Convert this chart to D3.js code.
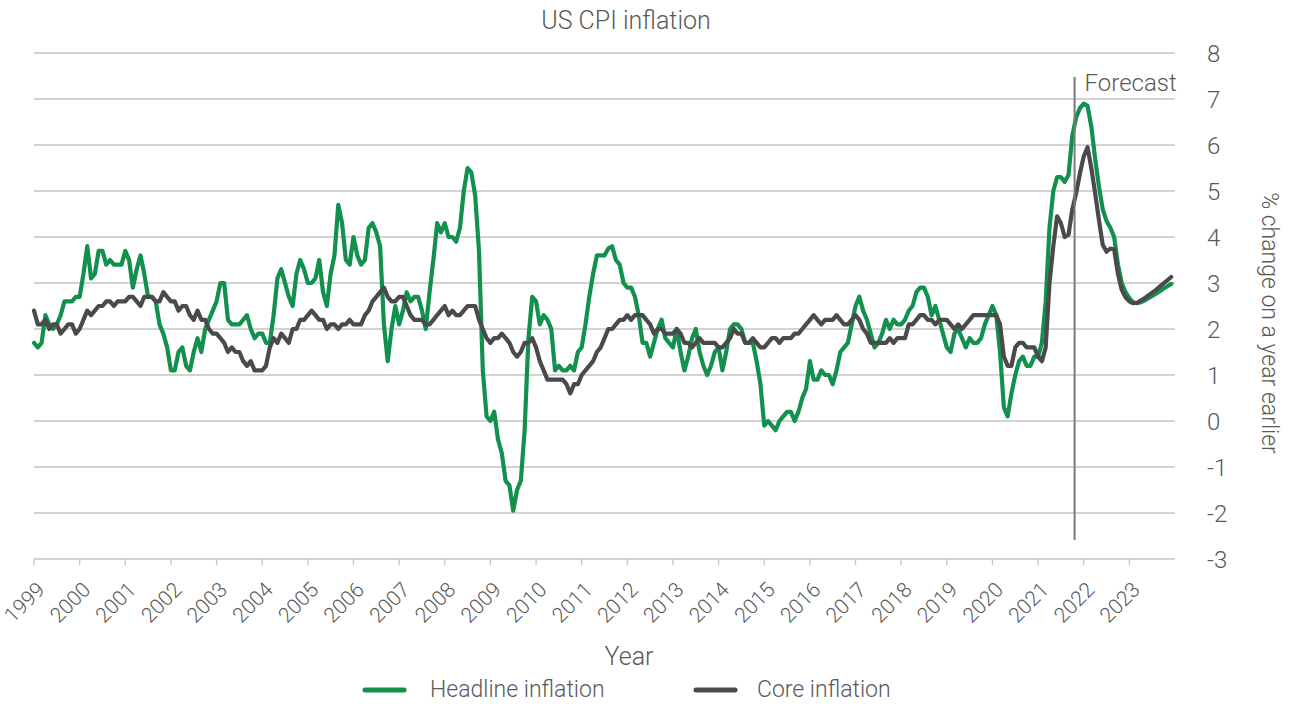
<!DOCTYPE html>
<html>
<head>
<meta charset="utf-8">
<script src="https://cdn.jsdelivr.net/npm/d3@7"></script>
<style>
  body { margin: 0; background: #fff; }
  text { font-family: Roboto, "Open Sans", sans-serif; font-weight: 300; fill: #595959; }
</style>
</head>
<body>
<div id="figure"></div>
<script>
// monthly year-on-year % change, Jan 1999 .. Dec 2023 (forecast from late 2021)
var headline = [
  1.7, 1.6, 1.7, 2.3, 2.1, 2.0, 2.1, 2.3, 2.6, 2.6, 2.6, 2.7,   // 1999
  2.7, 3.2, 3.8, 3.1, 3.2, 3.7, 3.7, 3.4, 3.5, 3.4, 3.4, 3.4,   // 2000
  3.7, 3.5, 2.9, 3.3, 3.6, 3.2, 2.7, 2.7, 2.6, 2.1, 1.9, 1.6,   // 2001
  1.1, 1.1, 1.5, 1.6, 1.2, 1.1, 1.5, 1.8, 1.5, 2.0, 2.2, 2.4,   // 2002
  2.6, 3.0, 3.0, 2.2, 2.1, 2.1, 2.1, 2.2, 2.3, 2.0, 1.8, 1.9,   // 2003
  1.9, 1.7, 1.7, 2.3, 3.1, 3.3, 3.0, 2.7, 2.5, 3.2, 3.5, 3.3,   // 2004
  3.0, 3.0, 3.1, 3.5, 2.8, 2.5, 3.2, 3.6, 4.7, 4.3, 3.5, 3.4,   // 2005
  4.0, 3.6, 3.4, 3.5, 4.2, 4.3, 4.1, 3.8, 2.1, 1.3, 2.0, 2.5,   // 2006
  2.1, 2.4, 2.8, 2.6, 2.7, 2.7, 2.4, 2.0, 2.8, 3.5, 4.3, 4.1,   // 2007
  4.3, 4.0, 4.0, 3.9, 4.2, 5.0, 5.5, 5.4, 4.9, 3.7, 1.1, 0.1,   // 2008
  0.0, 0.2, -0.4, -0.7, -1.3, -1.4, -1.95, -1.5, -1.3, -0.2, 1.8, 2.7, // 2009
  2.6, 2.1, 2.3, 2.2, 2.0, 1.1, 1.2, 1.1, 1.1, 1.2, 1.1, 1.5,   // 2010
  1.6, 2.1, 2.7, 3.2, 3.6, 3.6, 3.6, 3.75, 3.8, 3.5, 3.4, 3.0,  // 2011
  2.9, 2.9, 2.7, 2.3, 1.7, 1.7, 1.4, 1.7, 2.0, 2.2, 1.8, 1.7,   // 2012
  1.6, 2.0, 1.5, 1.1, 1.4, 1.8, 2.0, 1.5, 1.2, 1.0, 1.2, 1.5,   // 2013
  1.6, 1.1, 1.5, 2.0, 2.1, 2.1, 2.0, 1.7, 1.7, 1.7, 1.3, 0.8,   // 2014
  -0.1, 0.0, -0.1, -0.2, 0.0, 0.1, 0.2, 0.2, 0.0, 0.2, 0.5, 0.7, // 2015
  1.3, 0.9, 0.9, 1.1, 1.0, 1.0, 0.8, 1.1, 1.5, 1.6, 1.7, 2.1,   // 2016
  2.5, 2.7, 2.4, 2.2, 1.9, 1.6, 1.7, 1.9, 2.2, 2.0, 2.2, 2.1,   // 2017
  2.1, 2.2, 2.4, 2.5, 2.8, 2.9, 2.9, 2.7, 2.3, 2.5, 2.2, 1.9,   // 2018
  1.6, 1.5, 1.9, 2.0, 1.8, 1.6, 1.8, 1.7, 1.7, 1.8, 2.1, 2.3,   // 2019
  2.5, 2.3, 1.5, 0.3, 0.1, 0.6, 1.0, 1.3, 1.4, 1.2, 1.2, 1.4,   // 2020
  1.4, 1.7, 2.6, 4.2, 5.0, 5.3, 5.3, 5.2, 5.35, 6.2, 6.6, 6.8,  // 2021
  6.9, 6.85, 6.4, 5.7, 5.1, 4.6, 4.35, 4.2, 4.0, 3.4, 3.0, 2.8, // 2022
  2.67, 2.58, 2.56, 2.58, 2.62, 2.67, 2.72, 2.77, 2.82, 2.88, 2.93, 2.98 // 2023
];

var core = [
  2.4, 2.1, 2.1, 2.2, 2.0, 2.1, 2.1, 1.9, 2.0, 2.1, 2.1, 1.9,   // 1999
  2.0, 2.2, 2.4, 2.3, 2.4, 2.5, 2.5, 2.6, 2.6, 2.5, 2.6, 2.6,   // 2000
  2.6, 2.7, 2.7, 2.6, 2.5, 2.7, 2.7, 2.7, 2.6, 2.6, 2.8, 2.7,   // 2001
  2.6, 2.6, 2.4, 2.5, 2.5, 2.3, 2.2, 2.4, 2.2, 2.2, 2.0, 1.9,   // 2002
  1.9, 1.8, 1.7, 1.5, 1.6, 1.5, 1.5, 1.3, 1.2, 1.3, 1.1, 1.1,   // 2003
  1.1, 1.2, 1.6, 1.8, 1.7, 1.9, 1.8, 1.7, 2.0, 2.0, 2.2, 2.2,   // 2004
  2.3, 2.4, 2.3, 2.2, 2.2, 2.0, 2.1, 2.1, 2.0, 2.1, 2.1, 2.2,   // 2005
  2.1, 2.1, 2.1, 2.3, 2.4, 2.6, 2.7, 2.8, 2.9, 2.7, 2.6, 2.6,   // 2006
  2.7, 2.7, 2.5, 2.3, 2.2, 2.2, 2.2, 2.1, 2.1, 2.2, 2.3, 2.4,   // 2007
  2.5, 2.3, 2.4, 2.3, 2.3, 2.4, 2.5, 2.5, 2.5, 2.2, 2.0, 1.8,   // 2008
  1.7, 1.8, 1.8, 1.9, 1.8, 1.7, 1.5, 1.4, 1.5, 1.7, 1.7, 1.8,   // 2009
  1.6, 1.3, 1.1, 0.9, 0.9, 0.9, 0.9, 0.9, 0.8, 0.6, 0.8, 0.8,   // 2010
  1.0, 1.1, 1.2, 1.3, 1.5, 1.6, 1.8, 2.0, 2.0, 2.1, 2.2, 2.2,   // 2011
  2.3, 2.2, 2.3, 2.3, 2.3, 2.2, 2.1, 1.9, 2.0, 2.0, 1.9, 1.9,   // 2012
  1.9, 2.0, 1.9, 1.7, 1.7, 1.6, 1.7, 1.8, 1.7, 1.7, 1.7, 1.7,   // 2013
  1.6, 1.6, 1.7, 1.8, 2.0, 1.9, 1.9, 1.7, 1.7, 1.8, 1.7, 1.6,   // 2014
  1.6, 1.7, 1.8, 1.8, 1.7, 1.8, 1.8, 1.8, 1.9, 1.9, 2.0, 2.1,   // 2015
  2.2, 2.3, 2.2, 2.1, 2.2, 2.2, 2.2, 2.3, 2.2, 2.1, 2.1, 2.2,   // 2016
  2.3, 2.2, 2.0, 1.9, 1.7, 1.7, 1.7, 1.7, 1.7, 1.8, 1.7, 1.8,   // 2017
  1.8, 1.8, 2.1, 2.1, 2.2, 2.3, 2.3, 2.2, 2.2, 2.1, 2.2, 2.2,   // 2018
  2.2, 2.1, 2.0, 2.1, 2.0, 2.1, 2.2, 2.3, 2.3, 2.3, 2.3, 2.3,   // 2019
  2.3, 2.3, 2.1, 1.4, 1.2, 1.2, 1.6, 1.7, 1.7, 1.6, 1.6, 1.6,   // 2020
  1.4, 1.3, 1.6, 3.0, 3.8, 4.45, 4.3, 4.0, 4.05, 4.6, 4.95, 5.38, // 2021
  5.75, 5.95, 5.5, 4.95, 4.37, 3.83, 3.68, 3.75, 3.73, 3.2, 2.85, 2.69, // 2022
  2.6, 2.56, 2.57, 2.62, 2.67, 2.73, 2.79, 2.85, 2.92, 2.99, 3.06, 3.13  // 2023
];

var startYear = 1999;
var yearTicks = [1999, 2000, 2001, 2002, 2003, 2004, 2005, 2006, 2007, 2008, 2009, 2010,
  2011, 2012, 2013, 2014, 2015, 2016, 2017, 2018, 2019, 2020, 2021, 2022, 2023];
var valueTicks = [-3, -2, -1, 0, 1, 2, 3, 4, 5, 6, 7, 8];
var forecastAt = 2021.8;
var seriesNames = ["Headline inflation", "Core inflation"];
var seriesColors = ["#12904d", "#4a4a4c"];

var width = 1293, height = 704;

var svg = d3.select("#figure")
  .append("svg")
  .attr("width", width)
  .attr("height", height)

var x = d3.scaleLinear().domain([1999, 2024]).range([34, 1175]);
var y = d3.scaleLinear().domain([-3, 8]).range([559, 53]);

// gridlines
svg.selectAll(".grid")
  .data(valueTicks)
  .enter()
  .append("line")
  .attr("class", "grid")
  .attr("x1", x(1999))
  .attr("x2", x(2024))
  .attr("y1", function (d) { return y(d) })
  .attr("y2", function (d) { return y(d) })
  .attr("stroke", "#c4c4c4")
  .attr("stroke-width", 1.3)

// right axis labels
svg.selectAll(".ylab")
  .data(valueTicks)
  .enter()
  .append("text")
  .attr("class", "ylab")
  .attr("x", 1207)
  .attr("y", function (d) { return y(d) })
  .attr("dy", "0.36em")
  .style("font-size", "24px")
  .text(function (d) { return d })

// x ticks + labels
svg.selectAll(".xtick")
  .data(yearTicks)
  .enter()
  .append("line")
  .attr("class", "xtick")
  .attr("x1", function (d) { return x(d) })
  .attr("x2", function (d) { return x(d) })
  .attr("y1", y(-3))
  .attr("y2", y(-3) + 6)
  .attr("stroke", "#c4c4c4")
  .attr("stroke-width", 1.3)

svg.selectAll(".xlab")
  .data(yearTicks)
  .enter()
  .append("text")
  .attr("class", "xlab")
  .attr("text-anchor", "end")
  .attr("transform", function (d) { return "translate(" + (x(d) + 12) + ",591) rotate(-45)" })
  .style("font-size", "21px")
  .text(function (d) { return d })

// lines
var line = d3.line()
  .x(function (d, i) { return x(startYear + i / 12) })
  .y(function (d) { return y(d) })

svg.selectAll(".series")
  .data([headline, core])
  .enter()
  .append("path")
  .attr("class", "series")
  .attr("d", line)
  .attr("fill", "none")
  .attr("stroke", function (d, i) { return seriesColors[i] })
  .attr("stroke-width", 4.2)
  .attr("stroke-linejoin", "round")
  .attr("stroke-linecap", "round")

// forecast marker
svg.append("line")
  .attr("x1", x(forecastAt))
  .attr("x2", x(forecastAt))
  .attr("y1", 77)
  .attr("y2", 540)
  .attr("stroke", "#7a7a7a")
  .attr("stroke-width", 2)

svg.append("text")
  .attr("x", x(forecastAt) + 10)
  .attr("y", 91)
  .style("font-size", "24px")
  .text("Forecast")

// titles
svg.append("text")
  .attr("x", 626)
  .attr("y", 29)
  .attr("text-anchor", "middle")
  .style("font-size", "25px")
  .text("US CPI inflation")

svg.append("text")
  .attr("x", 629)
  .attr("y", 665)
  .attr("text-anchor", "middle")
  .style("font-size", "25px")
  .text("Year")

svg.append("text")
  .attr("transform", "translate(1262,323) rotate(90)")
  .attr("text-anchor", "middle")
  .style("font-size", "23px")
  .text("% change on a year earlier")

// legend
var legendX = [365, 696];
var lg = svg.selectAll(".legend")
  .data(seriesNames)
  .enter()
  .append("g")
  .attr("class", "legend")
  .attr("transform", function (d, i) { return "translate(" + legendX[i] + ",690)" })

lg.append("line")
  .attr("x1", 0)
  .attr("x2", 39)
  .attr("stroke", function (d, i) { return seriesColors[i] })
  .attr("stroke-width", 5)
  .attr("stroke-linecap", "round")

lg.append("text")
  .attr("x", function (d, i) { return i == 0 ? 65 : 61 })
  .attr("y", 7)
  .style("font-size", "23px")
  .text(function (d) { return d })
</script>
</body>
</html>
